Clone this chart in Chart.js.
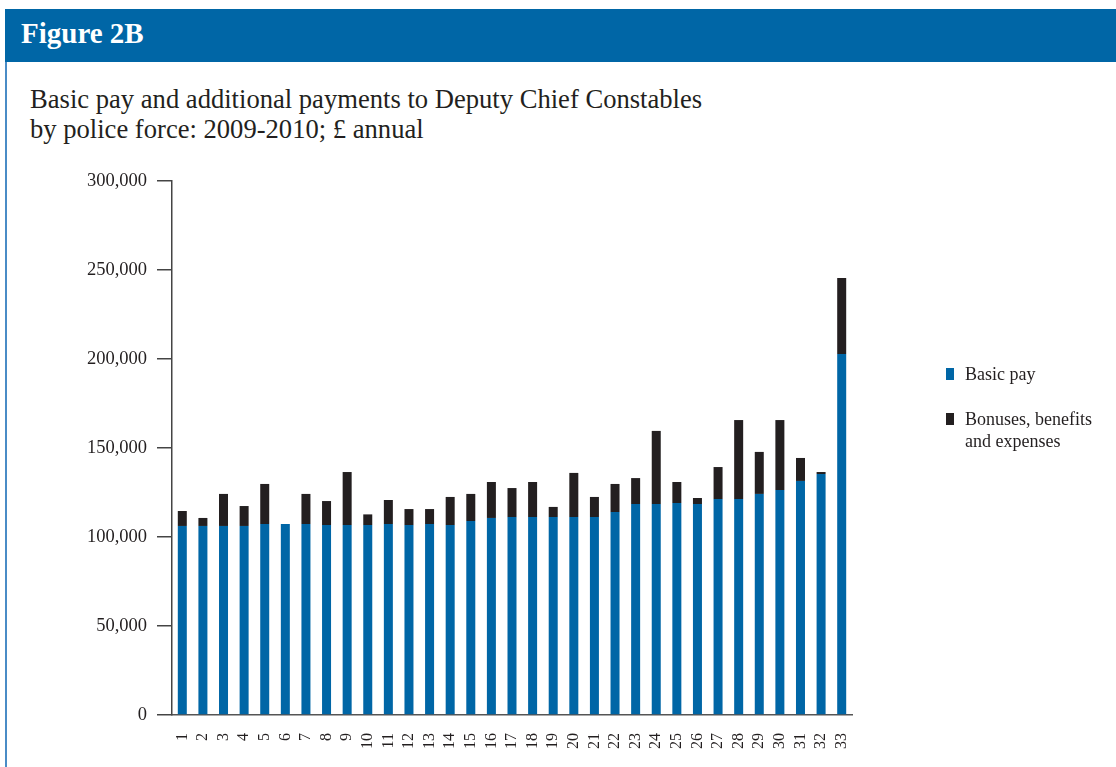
<!DOCTYPE html>
<html>
<head>
<meta charset="utf-8">
<script src="https://cdn.jsdelivr.net/npm/chart.js@4.4.0/dist/chart.umd.min.js"></script>
<style>
  html, body { margin:0; padding:0; background:#fff; }
  body { width:1116px; height:767px; position:relative; overflow:hidden; font-family:"Liberation Serif","Times New Roman",serif; color:#231f20; }
  #hdr { position:absolute; left:5px; top:9px; width:1111px; height:53px; background:#0066a6; }
  #hdrText { position:absolute; left:21px; top:19px; font-weight:bold; font-size:29px; line-height:29px; color:#fff; white-space:nowrap; }
  #lborder { position:absolute; left:5px; top:62px; width:2px; height:705px; background:#4a8cc6; }
  #title { position:absolute; left:30px; top:84px; font-size:26.6px; line-height:30px; white-space:nowrap; }
  #chart { position:absolute; left:0; top:0; }
  .leg { position:absolute; left:965px; font-size:18px; line-height:22px; white-space:nowrap; }
  .sw { position:absolute; left:946px; width:8px; height:12px; }
</style>
</head>
<body>
<div id="hdr"></div>
<div id="hdrText">Figure 2B</div>
<div id="lborder"></div>
<div id="title">Basic pay and additional payments to Deputy Chief Constables<br>by police force: 2009-2010; £ annual</div>
<canvas id="chart" width="1116" height="767"></canvas>
<div class="sw" id="sw0" style="top:368px;"></div>
<div class="leg" id="leg0" style="top:363px;"></div>
<div class="sw" id="sw1" style="top:413px;"></div>
<div class="leg" id="leg1" style="top:408px;"></div>
<script>
const forces = ['1','2','3','4','5','6','7','8','9','10','11','12','13','14','15','16','17','18','19','20','21','22','23','24','25','26','27','28','29','30','31','32','33'];
const basicPay = [106200,106200,106200,106200,107300,107300,107300,106700,106700,106700,107300,106700,107300,106700,109000,110700,111200,111200,111200,111200,111200,114000,118500,118500,119100,118500,121300,121300,124200,126400,131500,135400,202800];
const bonuses = [8400,4500,18000,11200,22500,0,16900,13500,29800,6000,13500,9000,8400,15800,15200,20200,16300,19700,5700,24800,11300,15800,14600,41100,11800,3400,18000,44400,23600,39300,12900,1100,42700];
const yTicks = [0,50000,100000,150000,200000,250000,300000];
const seriesNames = ['Basic pay', ['Bonuses, benefits', 'and expenses']];
const seriesColors = ['#0066a6', '#231f20'];

document.getElementById('sw0').style.background = seriesColors[0];
document.getElementById('sw1').style.background = seriesColors[1];
document.getElementById('leg0').textContent = seriesNames[0];
document.getElementById('leg1').innerHTML = seriesNames[1].join('<br>');

const fontFam = '"Liberation Serif", "Times New Roman", serif';
new Chart(document.getElementById('chart'), {
  type: 'bar',
  data: {
    labels: forces,
    datasets: [
      { label: 'Basic pay', data: basicPay, backgroundColor: seriesColors[0], borderWidth: 0, barPercentage: 0.437, categoryPercentage: 1 },
      { label: 'Bonuses, benefits and expenses', data: bonuses, backgroundColor: seriesColors[1], borderWidth: 0, barPercentage: 0.437, categoryPercentage: 1 }
    ]
  },
  options: {
    responsive: false,
    animation: false,
    devicePixelRatio: 1,
    layout: { padding: { top: 181, right: 264, left: 0, bottom: 0 } },
    plugins: { legend: { display: false }, tooltip: { enabled: false } },
    scales: {
      x: {
        stacked: true,
        grid: { drawOnChartArea: false, drawTicks: false },
        border: { color: '#555', width: 1.5 },
        ticks: { autoSkip: false, minRotation: 90, maxRotation: 90, padding: 18, color: '#231f20', font: { family: fontFam, size: 16 } },
        afterFit: s => { s.height = 52; }
      },
      y: {
        stacked: true,
        min: 0, max: 300000,
        afterBuildTicks: s => { s.ticks = yTicks.map(v => ({ value: v })); },
        grid: { drawOnChartArea: false, tickLength: 15, color: '#444', lineWidth: 1.5 },
        border: { color: '#444', width: 1.5 },
        ticks: { padding: 10, color: '#231f20', font: { family: fontFam, size: 18.5 }, callback: v => v.toLocaleString('en-GB') },
        afterFit: s => { s.width = 172; }
      }
    }
  }
});
</script>
</body>
</html>
